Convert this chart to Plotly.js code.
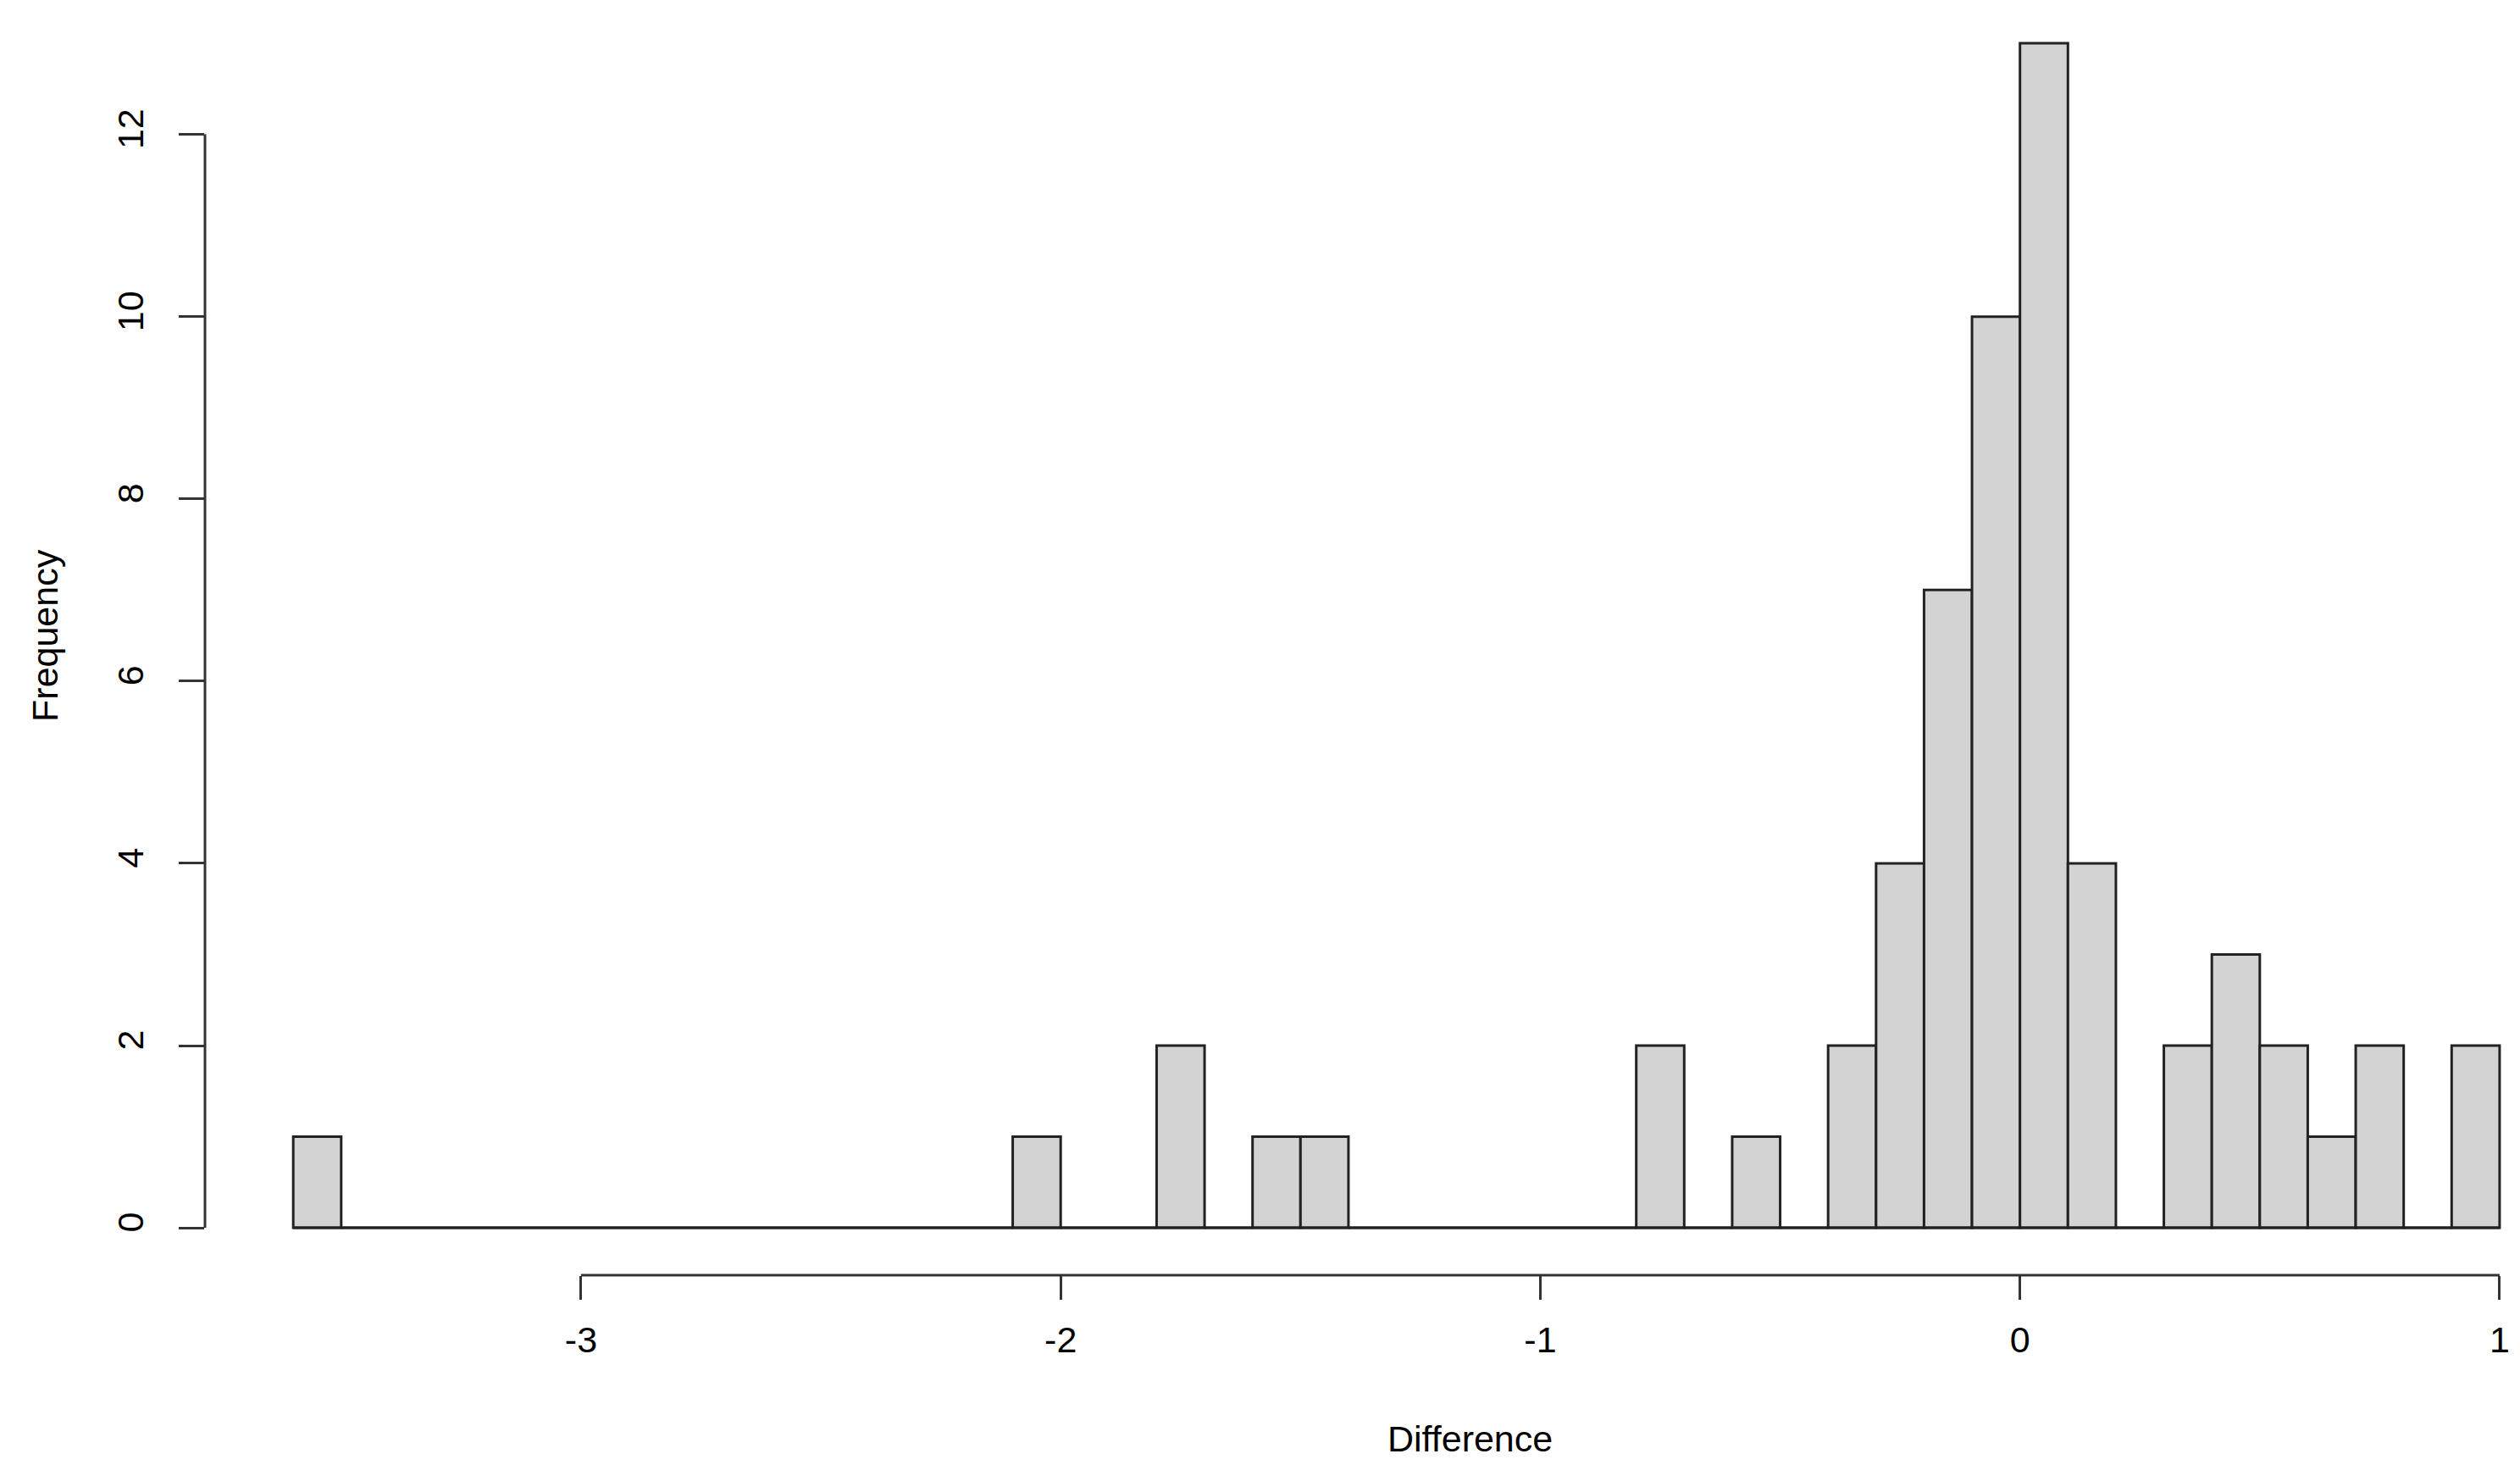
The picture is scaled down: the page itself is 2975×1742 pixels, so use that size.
<!DOCTYPE html>
<html>
<head>
<meta charset="utf-8">
<script src="https://cdn.plot.ly/plotly-3.0.1.min.js"></script>
<style>
  html, body { margin: 0; padding: 0; background: #ffffff; }
  #chart { width: 2975px; height: 1742px; }
</style>
</head>
<body>
<div id="chart"></div>
<script>
// Histogram bins (width 0.1) – left edges and counts
const binWidth = 0.1;
const binStarts = [-3.6, -3.5, -3.4, -3.3, -3.2, -3.1, -3.0, -2.9, -2.8, -2.7, -2.6, -2.5, -2.4, -2.3, -2.2,
                   -2.1, -2.0, -1.9, -1.8, -1.7, -1.6, -1.5, -1.4, -1.3, -1.2, -1.1, -1.0, -0.9, -0.8,
                   -0.7, -0.6, -0.5, -0.4, -0.3, -0.2, -0.1, 0.0, 0.1, 0.2, 0.3, 0.4, 0.5, 0.6, 0.7, 0.8, 0.9];
const counts    = [1, 0, 0, 0, 0, 0, 0, 0, 0, 0, 0, 0, 0, 0, 0,
                   1, 0, 0, 2, 0, 1, 1, 0, 0, 0, 0, 0, 0, 2,
                   0, 1, 0, 2, 4, 7, 10, 13, 4, 0, 2, 3, 2, 1, 2, 0, 2];

const xTickVals = [-3, -2, -1, 0, 1];
const xTickText = ["-3", "-2", "-1", "0", "1"];
const yTickVals = [0, 2, 4, 6, 8, 10, 12];
const yTickText = ["0", "2", "4", "6", "8", "10", "12"];

const xTitle = "Difference";
const yTitle = "Frequency";

const centers = binStarts.map(s => +(s + binWidth / 2).toFixed(3));
const firstEdge = binStarts[0];
const lastEdge = +(binStarts[binStarts.length - 1] + binWidth).toFixed(3);

const FONT = "Liberation Sans, Arial, Helvetica, sans-serif";
const INK = "#222222";
const AXIS = "#333333";

const traces = [
  {
    type: "scatter",
    mode: "lines",
    x: [firstEdge, lastEdge],
    y: [0, 0],
    line: { color: INK, width: 3 },
    hoverinfo: "skip",
    showlegend: false
  },
  {
    type: "bar",
    x: centers,
    y: counts,
    width: binWidth,
    marker: { color: "#D3D3D3", line: { color: INK, width: 3 } },
    showlegend: false
  }
];

const layout = {
  width: 2975,
  height: 1742,
  margin: { l: 242, r: 0, t: 0, b: 237, pad: 0 },
  paper_bgcolor: "#ffffff",
  plot_bgcolor: "#ffffff",
  font: { family: FONT, size: 43, color: "#000000" },
  showlegend: false,
  bargap: 0,
  xaxis: {
    range: [-3.784, 1.0425],
    showgrid: false,
    zeroline: false,
    showline: false,
    tickmode: "array",
    tickvals: xTickVals,
    ticktext: xTickText,
    ticks: "outside",
    ticklen: 28,
    tickwidth: 3,
    tickcolor: AXIS,
    ticklabelstandoff: 10,
    tickfont: { family: FONT, size: 43, color: "#000000" }
  },
  yaxis: {
    range: [-0.52, 13.475],
    showgrid: false,
    zeroline: false,
    showline: false,
    tickmode: "array",
    tickvals: yTickVals,
    ticktext: yTickText,
    ticks: "outside",
    ticklen: 30,
    tickwidth: 3,
    tickcolor: AXIS,
    tickangle: -90,
    ticklabelstandoff: 25,
    tickfont: { family: FONT, size: 43, color: "#000000" }
  },
  shapes: [
    { type: "line", xref: "x", yref: "paper", x0: xTickVals[0], x1: xTickVals[xTickVals.length - 1], y0: 0, y1: 0,
      line: { color: AXIS, width: 3 } },
    { type: "line", xref: "paper", yref: "y", x0: 0, x1: 0, y0: yTickVals[0], y1: yTickVals[yTickVals.length - 1],
      line: { color: AXIS, width: 3 } }
  ],
  annotations: [
    { text: xTitle, xref: "paper", yref: "paper", x: 0.5463, y: -0.1283, xanchor: "center", yanchor: "middle",
      showarrow: false, font: { family: FONT, size: 43, color: "#000000" } },
    { text: yTitle, xref: "paper", yref: "y", x: -0.0692, y: 6.5, xanchor: "center", yanchor: "middle",
      textangle: -90, showarrow: false, font: { family: FONT, size: 43, color: "#000000" } }
  ]
};

Plotly.newPlot("chart", traces, layout, { displayModeBar: false, staticPlot: true });
</script>
</body>
</html>
